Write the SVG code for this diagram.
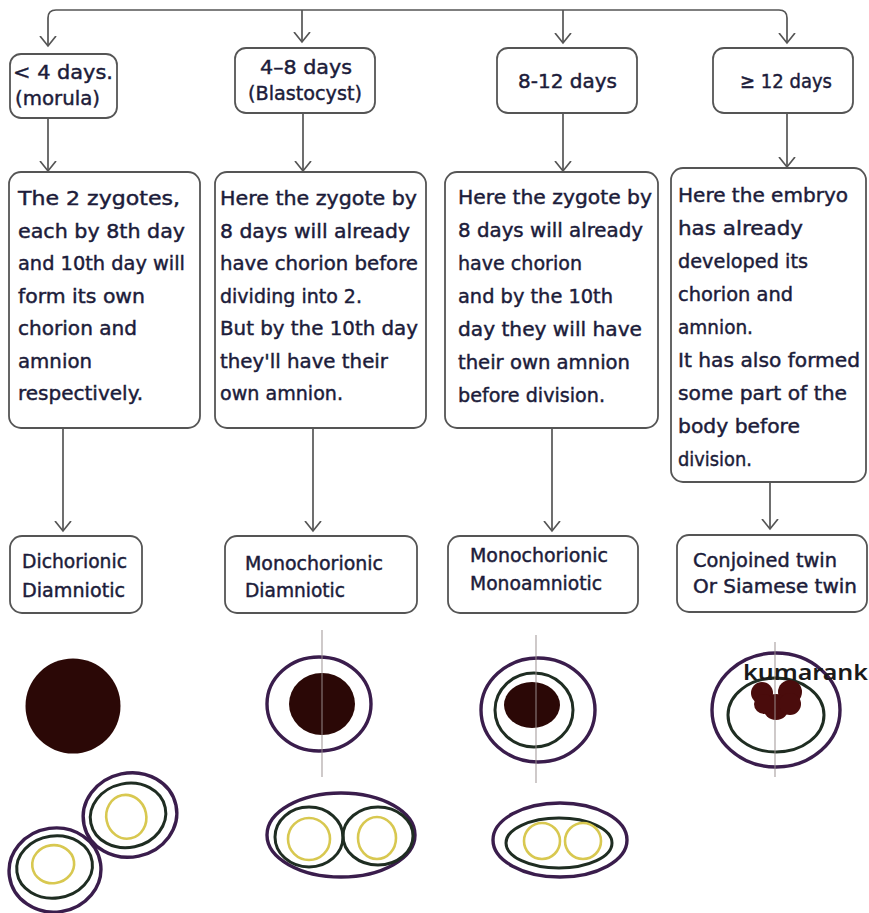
<svg xmlns="http://www.w3.org/2000/svg" width="869" height="913" viewBox="0 0 869 913">
  <style>
    .box { fill: #ffffff; stroke: #555555; stroke-width: 1.8; }
    .lbl { font-family: "DejaVu Sans", "Liberation Sans", sans-serif; font-size: 20px; fill: #1c1c3a; stroke: #1c1c3a; stroke-width: 0.45; }
    .sm { font-size: 19px; }
    .wire { fill: none; stroke: #555555; stroke-width: 1.7; }
    .chorion { fill: none; stroke: #3a1d4c; stroke-width: 3.4; }
    .amnion { fill: none; stroke: #1f2d22; stroke-width: 3; }
    .embryo { fill: none; stroke: #d8c850; stroke-width: 2.6; }
    .mass { fill: #2b0806; }
    .axis { stroke: #9c9090; stroke-width: 1.2; opacity: 0.8; }
  </style>
  <defs>
    <marker id="arrow" viewBox="0 0 12 18" refX="10" refY="9" markerWidth="12" markerHeight="18" markerUnits="userSpaceOnUse" orient="auto">
      <path d="M0,1 L10,9 L0,17" fill="none" stroke="#555555" stroke-width="1.7"/>
    </marker>
  </defs>
  <rect width="869" height="913" fill="#ffffff"/>

  <!-- connectors -->
  <g id="connectors" class="wire">
    <path d="M302,10 H56 Q48,10 48,18 V46" marker-end="url(#arrow)"/>
    <path d="M302,10 H779 Q787,10 787,18 V43" marker-end="url(#arrow)"/>
    <path d="M302,10 V42" marker-end="url(#arrow)"/>
    <path d="M563,10 V43" marker-end="url(#arrow)"/>
    <path d="M48,118 V171" marker-end="url(#arrow)"/>
    <path d="M303,113 V171" marker-end="url(#arrow)"/>
    <path d="M563,113 V171" marker-end="url(#arrow)"/>
    <path d="M787,113 V167" marker-end="url(#arrow)"/>
    <path d="M63,428 V531" marker-end="url(#arrow)"/>
    <path d="M313,428 V531" marker-end="url(#arrow)"/>
    <path d="M552,428 V531" marker-end="url(#arrow)"/>
    <path d="M770,482 V529" marker-end="url(#arrow)"/>
  </g>

  <!-- stage boxes -->
  <g id="stage-morula">
    <rect class="box" x="10" y="54" width="107" height="64" rx="11"/>
    <text class="lbl" x="13" y="79" textLength="100" lengthAdjust="spacingAndGlyphs">&lt; 4 days.</text>
    <text class="lbl" x="15" y="105" textLength="85" lengthAdjust="spacingAndGlyphs">(morula)</text>
  </g>
  <g id="stage-blastocyst">
    <rect class="box" x="235" y="48" width="140" height="65" rx="11"/>
    <text class="lbl" x="260" y="74" textLength="92" lengthAdjust="spacingAndGlyphs">4–8 days</text>
    <text class="lbl" x="248" y="100" textLength="114" lengthAdjust="spacingAndGlyphs">(Blastocyst)</text>
  </g>
  <g id="stage-8-12">
    <rect class="box" x="497" y="48" width="140" height="65" rx="11"/>
    <text class="lbl" x="518" y="88" textLength="99" lengthAdjust="spacingAndGlyphs">8-12 days</text>
  </g>
  <g id="stage-12plus">
    <rect class="box" x="713" y="48" width="140" height="65" rx="11"/>
    <text class="lbl" x="740" y="88" textLength="92" lengthAdjust="spacingAndGlyphs">≥ 12 days</text>
  </g>

  <!-- explanation boxes -->
  <g id="note-morula">
    <rect class="box" x="9" y="172" width="191" height="256" rx="12"/>
    <text class="lbl" x="18" y="205" textLength="162" lengthAdjust="spacingAndGlyphs">The 2 zygotes,</text>
    <text class="lbl" x="18" y="237.5" textLength="167" lengthAdjust="spacingAndGlyphs">each by 8th day</text>
    <text class="lbl" x="18" y="270" textLength="167" lengthAdjust="spacingAndGlyphs">and 10th day will</text>
    <text class="lbl" x="18" y="302.5" textLength="127" lengthAdjust="spacingAndGlyphs">form its own</text>
    <text class="lbl" x="18" y="335" textLength="119" lengthAdjust="spacingAndGlyphs">chorion and</text>
    <text class="lbl" x="18" y="367.5" textLength="74" lengthAdjust="spacingAndGlyphs">amnion</text>
    <text class="lbl" x="18" y="400" textLength="125" lengthAdjust="spacingAndGlyphs">respectively.</text>
  </g>
  <g id="note-blastocyst">
    <rect class="box" x="215" y="172" width="211" height="256" rx="12"/>
    <text class="lbl" x="220" y="205" textLength="197" lengthAdjust="spacingAndGlyphs">Here the zygote by</text>
    <text class="lbl" x="220" y="237.5" textLength="190" lengthAdjust="spacingAndGlyphs">8 days will already</text>
    <text class="lbl" x="220" y="270" textLength="198" lengthAdjust="spacingAndGlyphs">have chorion before</text>
    <text class="lbl" x="220" y="302.5" textLength="142" lengthAdjust="spacingAndGlyphs">dividing into 2.</text>
    <text class="lbl" x="220" y="335" textLength="198" lengthAdjust="spacingAndGlyphs">But by the 10th day</text>
    <text class="lbl" x="220" y="367.5" textLength="168" lengthAdjust="spacingAndGlyphs">they'll have their</text>
    <text class="lbl" x="220" y="400" textLength="123" lengthAdjust="spacingAndGlyphs">own amnion.</text>
  </g>
  <g id="note-8-12">
    <rect class="box" x="445" y="172" width="213" height="256" rx="12"/>
    <text class="lbl" x="458" y="204" textLength="194" lengthAdjust="spacingAndGlyphs">Here the zygote by</text>
    <text class="lbl" x="458" y="237" textLength="185" lengthAdjust="spacingAndGlyphs">8 days will already</text>
    <text class="lbl" x="458" y="270" textLength="124" lengthAdjust="spacingAndGlyphs">have chorion</text>
    <text class="lbl" x="458" y="303" textLength="155" lengthAdjust="spacingAndGlyphs">and by the 10th</text>
    <text class="lbl" x="458" y="336" textLength="184" lengthAdjust="spacingAndGlyphs">day they will have</text>
    <text class="lbl" x="458" y="369" textLength="172" lengthAdjust="spacingAndGlyphs">their own amnion</text>
    <text class="lbl" x="458" y="402" textLength="147" lengthAdjust="spacingAndGlyphs">before division.</text>
  </g>
  <g id="note-12plus">
    <rect class="box" x="671" y="168" width="195" height="314" rx="12"/>
    <text class="lbl" x="678" y="202" textLength="170" lengthAdjust="spacingAndGlyphs">Here the embryo</text>
    <text class="lbl" x="678" y="235" textLength="125" lengthAdjust="spacingAndGlyphs">has already</text>
    <text class="lbl" x="678" y="268" textLength="130" lengthAdjust="spacingAndGlyphs">developed its</text>
    <text class="lbl" x="678" y="301" textLength="115" lengthAdjust="spacingAndGlyphs">chorion and</text>
    <text class="lbl" x="678" y="334" textLength="75" lengthAdjust="spacingAndGlyphs">amnion.</text>
    <text class="lbl" x="678" y="367" textLength="182" lengthAdjust="spacingAndGlyphs">It has also formed</text>
    <text class="lbl" x="678" y="400" textLength="169" lengthAdjust="spacingAndGlyphs">some part of the</text>
    <text class="lbl" x="678" y="433" textLength="122" lengthAdjust="spacingAndGlyphs">body before</text>
    <text class="lbl" x="678" y="466" textLength="74" lengthAdjust="spacingAndGlyphs">division.</text>
  </g>

  <!-- outcome boxes -->
  <g id="type-dcda">
    <rect class="box" x="10" y="536" width="132" height="77" rx="12"/>
    <text class="lbl sm" x="22" y="568" textLength="105" lengthAdjust="spacingAndGlyphs">Dichorionic</text>
    <text class="lbl sm" x="22" y="597" textLength="103" lengthAdjust="spacingAndGlyphs">Diamniotic</text>
  </g>
  <g id="type-mcda">
    <rect class="box" x="225" y="536" width="192" height="77" rx="12"/>
    <text class="lbl sm" x="245" y="570" textLength="138" lengthAdjust="spacingAndGlyphs">Monochorionic</text>
    <text class="lbl sm" x="245" y="597" textLength="100" lengthAdjust="spacingAndGlyphs">Diamniotic</text>
  </g>
  <g id="type-mcma">
    <rect class="box" x="448" y="536" width="190" height="77" rx="12"/>
    <text class="lbl sm" x="470" y="562" textLength="138" lengthAdjust="spacingAndGlyphs">Monochorionic</text>
    <text class="lbl sm" x="470" y="590" textLength="132" lengthAdjust="spacingAndGlyphs">Monoamniotic</text>
  </g>
  <g id="type-conjoined">
    <rect class="box" x="677" y="535" width="190" height="77" rx="12"/>
    <text class="lbl sm" x="693" y="567" textLength="144" lengthAdjust="spacingAndGlyphs">Conjoined twin</text>
    <text class="lbl sm" x="693" y="593" textLength="164" lengthAdjust="spacingAndGlyphs">Or Siamese twin</text>
  </g>

  <!-- sketches: dichorionic diamniotic -->
  <g id="sketch-dcda">
    <circle class="mass" cx="73" cy="706" r="47.5"/>
    <g transform="rotate(-12 130 815)">
      <ellipse class="chorion" cx="130" cy="815" rx="47" ry="42"/>
      <ellipse class="amnion" cx="128" cy="815" rx="38" ry="32"/>
      <ellipse class="embryo" cx="126" cy="816" rx="20" ry="22"/>
    </g>
    <g transform="rotate(-8 55 870)">
      <ellipse class="chorion" cx="55" cy="870" rx="46" ry="42"/>
      <ellipse class="amnion" cx="55" cy="867" rx="38" ry="31"/>
      <ellipse class="embryo" cx="54" cy="864" rx="21" ry="19"/>
    </g>
  </g>

  <!-- sketches: monochorionic diamniotic -->
  <g id="sketch-mcda">
    <ellipse class="chorion" cx="319" cy="704" rx="52" ry="47"/>
    <ellipse class="mass" cx="322" cy="704" rx="33" ry="31"/>
    <line class="axis" x1="322" y1="630" x2="322" y2="777"/>
    <ellipse class="chorion" cx="341" cy="835" rx="74" ry="42"/>
    <ellipse class="amnion" cx="309" cy="837" rx="34" ry="30"/>
    <ellipse class="amnion" cx="378" cy="836" rx="35" ry="29"/>
    <circle class="embryo" cx="309" cy="839" r="21"/>
    <ellipse class="embryo" cx="377" cy="838" rx="19" ry="21"/>
  </g>

  <!-- sketches: monochorionic monoamniotic -->
  <g id="sketch-mcma">
    <ellipse class="chorion" cx="538" cy="710" rx="57" ry="52"/>
    <ellipse class="amnion" cx="534" cy="710" rx="39" ry="37"/>
    <ellipse class="mass" cx="532" cy="705" rx="28" ry="23"/>
    <line class="axis" x1="536" y1="635" x2="536" y2="783"/>
    <ellipse class="chorion" cx="560" cy="840" rx="67" ry="37"/>
    <ellipse class="amnion" cx="559" cy="843" rx="53" ry="25"/>
    <circle class="embryo" cx="542" cy="841" r="18"/>
    <circle class="embryo" cx="583" cy="841" r="18"/>
  </g>

  <!-- sketches: conjoined -->
  <g id="sketch-conjoined">
    <ellipse class="chorion" cx="776" cy="710" rx="64" ry="57"/>
    <ellipse class="amnion" cx="776" cy="715" rx="48" ry="37"/>
    <g fill="#4a0c0c">
      <circle cx="762" cy="693" r="11"/>
      <circle cx="790" cy="692" r="12"/>
      <circle cx="776" cy="707" r="13"/>
      <circle cx="764" cy="704" r="10"/>
      <circle cx="790" cy="704" r="11"/>
    </g>
    <line class="axis" x1="775" y1="642" x2="775" y2="777"/>
    <text x="743" y="680" font-family="'Noto Sans', 'Open Sans', sans-serif" font-size="22" font-weight="600" fill="#1a1a1a" textLength="125" lengthAdjust="spacingAndGlyphs">kumarank</text>
  </g>
</svg>
